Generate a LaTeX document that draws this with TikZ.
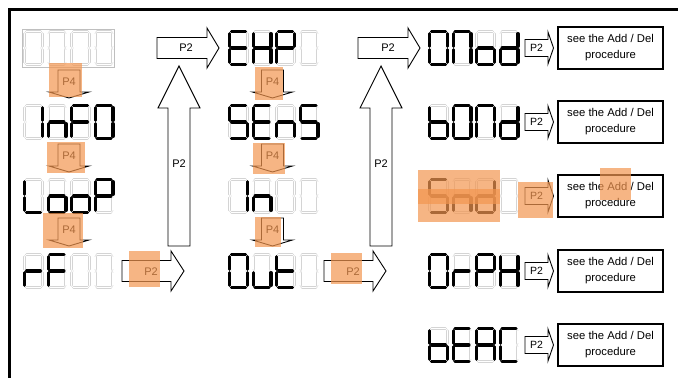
\documentclass[tikz,border=0pt]{standalone}
\usepackage{fontspec}
\setmainfont{Liberation Sans}
\tikzset{
  segoffA/.style={draw=black!17, line width=2.7pt, line cap=round},
  segoffB/.style={draw=white, line width=1.5pt, line cap=round},
  segon/.style={draw=black, line width=3.4pt, line cap=round},
  blk/.style={draw=black, line width=0.9pt, fill=white, line join=miter},
  lbl/.style={inner sep=0pt, font=\fontsize{11}{13}\selectfont},
  slbl/.style={inner sep=0pt, font=\fontsize{10.5}{12}\selectfont},
  addbox/.style={draw=black, line width=1.2pt, minimum width=105pt, minimum height=42pt, inner sep=0pt, align=center, font=\fontsize{11.3}{16}\selectfont},
  hl/.style={fill={rgb,255:red,243;green,150;blue,80}, fill opacity=0.7, draw=none}
}
\def\sega{(3.5,1.7)--(17.5,1.7)}
\def\segb{(19.3,3.7)--(19.3,16.3)}
\def\segc{(19.3,19.7)--(19.3,32.3)}
\def\segd{(3.5,34.3)--(17.5,34.3)}
\def\sege{(1.7,19.7)--(1.7,32.3)}
\def\segf{(1.7,3.7)--(1.7,16.3)}
\def\segg{(3.7,18)--(17.3,18)}
\def\segz{}
\newcommand\dig[3]{%
  \begin{scope}[shift={(#1,#2)}]
    \foreach \s in {a,b,c,d,e,f,g}{\draw[segoffA] \csname seg\s\endcsname; \draw[segoffB] \csname seg\s\endcsname;}
    \foreach \s in {#3}{\draw[segon] \csname seg\s\endcsname;}
  \end{scope}}
\newcommand\disp[6]{\dig{#1}{#2}{#3}\dig{#1+23.5}{#2}{#4}\dig{#1+47}{#2}{#5}\dig{#1+70.5}{#2}{#6}}
% right block arrow: L, Hx, T, c
\newcommand\rarr[4]{\draw[blk] (#1,#4-10.5) -- (#2,#4-10.5) -- (#2,#4-20) -- (#3,#4) -- (#2,#4+20) -- (#2,#4+10.5) -- (#1,#4+10.5) -- cycle;}
% up block arrow: cx, bottom, base, tip
\newcommand\uarr[4]{\draw[blk] (#1-11,#2) -- (#1-11,#3) -- (#1-21,#3) -- (#1,#4) -- (#1+21,#3) -- (#1+11,#3) -- (#1+11,#2) -- cycle;}
% down block arrow: cx, top, base, tip
\newcommand\darr[4]{\draw[blk] (#1-11,#2) -- (#1+11,#2) -- (#1+11,#3) -- (#1+20,#3) -- (#1,#4) -- (#1-20,#3) -- (#1-11,#3) -- cycle;}
% small right arrow: c
\newcommand\sarr[1]{\draw[blk] (525,#1-8.5) -- (548,#1-8.5) -- (548,#1-16) -- (553.5,#1) -- (548,#1+16) -- (548,#1+8.5) -- (525,#1+8.5) -- cycle;}
\begin{document}
\begin{tikzpicture}[x=1pt,y=-1pt]
\useasboundingbox (0,0) rectangle (678,378);
\fill[white] (0,0) rectangle (678,378);
% frame
\draw[line width=3pt] (678,9.5) -- (9.5,9.5) -- (9.5,378);

% column 1 displays
\draw[black!25, line width=0.8pt] (22,29) rectangle (114,67);
\disp{23}{30}{z}{z}{z}{z}
\disp{23}{104}{b,c}{c,e,g}{a,e,f,g}{a,b,c,d,e,f}
\disp{23}{178}{d,e,f}{c,d,e,g}{c,d,e,g}{a,b,e,f,g}
\disp{23}{253}{e,g}{a,e,f,g}{z}{z}
% column 2 displays
\disp{228}{30}{a,d,e,f,g}{b,c,e,f,g}{a,b,e,f,g}{z}
\disp{228}{104}{a,c,d,f,g}{a,d,e,f,g}{c,e,g}{a,c,d,f,g}
\disp{228}{178}{b,c}{c,e,g}{z}{z}
\disp{228}{253}{a,b,c,d,e,f}{c,d,e}{d,e,f,g}{z}
% column 3 displays
\disp{428}{30}{a,b,c,d,e,f}{a,b,c,e,f}{c,d,e,g}{b,c,d,e,g}
\disp{428}{104}{c,d,e,f,g}{a,b,c,d,e,f}{a,b,c,e,f}{b,c,d,e,g}
\disp{428}{178}{a,c,d,f,g}{c,e,g}{b,c,d,e,g}{z}
\disp{428}{253}{a,b,c,d,e,f}{e,g}{a,b,e,f,g}{b,c,e,f,g}
\disp{428}{327}{c,d,e,f,g}{a,d,e,f,g}{a,b,c,e,f,g}{a,d,e,f}

% P4 down arrows
\darr{69}{70}{92}{98}   \node[lbl] (p4a) at (69,82) {P4};
\darr{69}{144}{166}{172} \node[lbl] (p4b) at (69,156) {P4};
\darr{69}{218}{240}{246} \node[lbl] (p4c) at (69,230) {P4};
\darr{272.5}{70}{92}{98}   \node[lbl] (p4d) at (272.5,82) {P4};
\darr{272.5}{144}{166}{172} \node[lbl] (p4e) at (272.5,156) {P4};
\darr{272.5}{218}{240}{246} \node[lbl] (p4f) at (272.5,230) {P4};

% P2 big arrows
\uarr{179}{246}{108}{66} \node[lbl] (u1) at (179,164) {P2};
\uarr{381}{246}{108}{66} \node[lbl] (u2) at (381,164) {P2};
\rarr{157}{207}{219}{48} \node[lbl] (r1) at (186,48) {P2};
\rarr{358}{408}{420}{48} \node[lbl] (r2) at (388,48) {P2};
\rarr{122}{171}{184}{271} \node[lbl] (r3) at (151,272) {P2};
\rarr{324}{373}{386}{271} \node[lbl] (r4) at (353,272) {P2};

% small P2 arrows and boxes
\foreach \c/\n in {48/1,122/2,196/3,271/4,345/5}{
  \sarr{\c}
  \node[slbl] (s\n) at (536.5,\c) {P2};
  \node[addbox] (b\n) at (610.5,\c) {see the Add / Del\\procedure};
}

% highlights
\fill[hl] (49,63) rectangle (82,97);
\fill[hl] (47,142) rectangle (85,173);
\fill[hl] (43,213) rectangle (83,248);
\fill[hl] (129,251) rectangle (160,287);
\fill[hl] (255,67) rectangle (283,100);
\fill[hl] (253,143) rectangle (285,174);
\fill[hl] (255,217) rectangle (281,247);
\fill[hl] (331,253) rectangle (362,284);
\fill[hl] (418,170) rectangle (500,222);
\fill[hl] (418,189) rectangle (500,204);
\fill[hl] (518,182) rectangle (553,218);
\fill[hl] (600,168) rectangle (631,200);
\end{tikzpicture}
\end{document}
